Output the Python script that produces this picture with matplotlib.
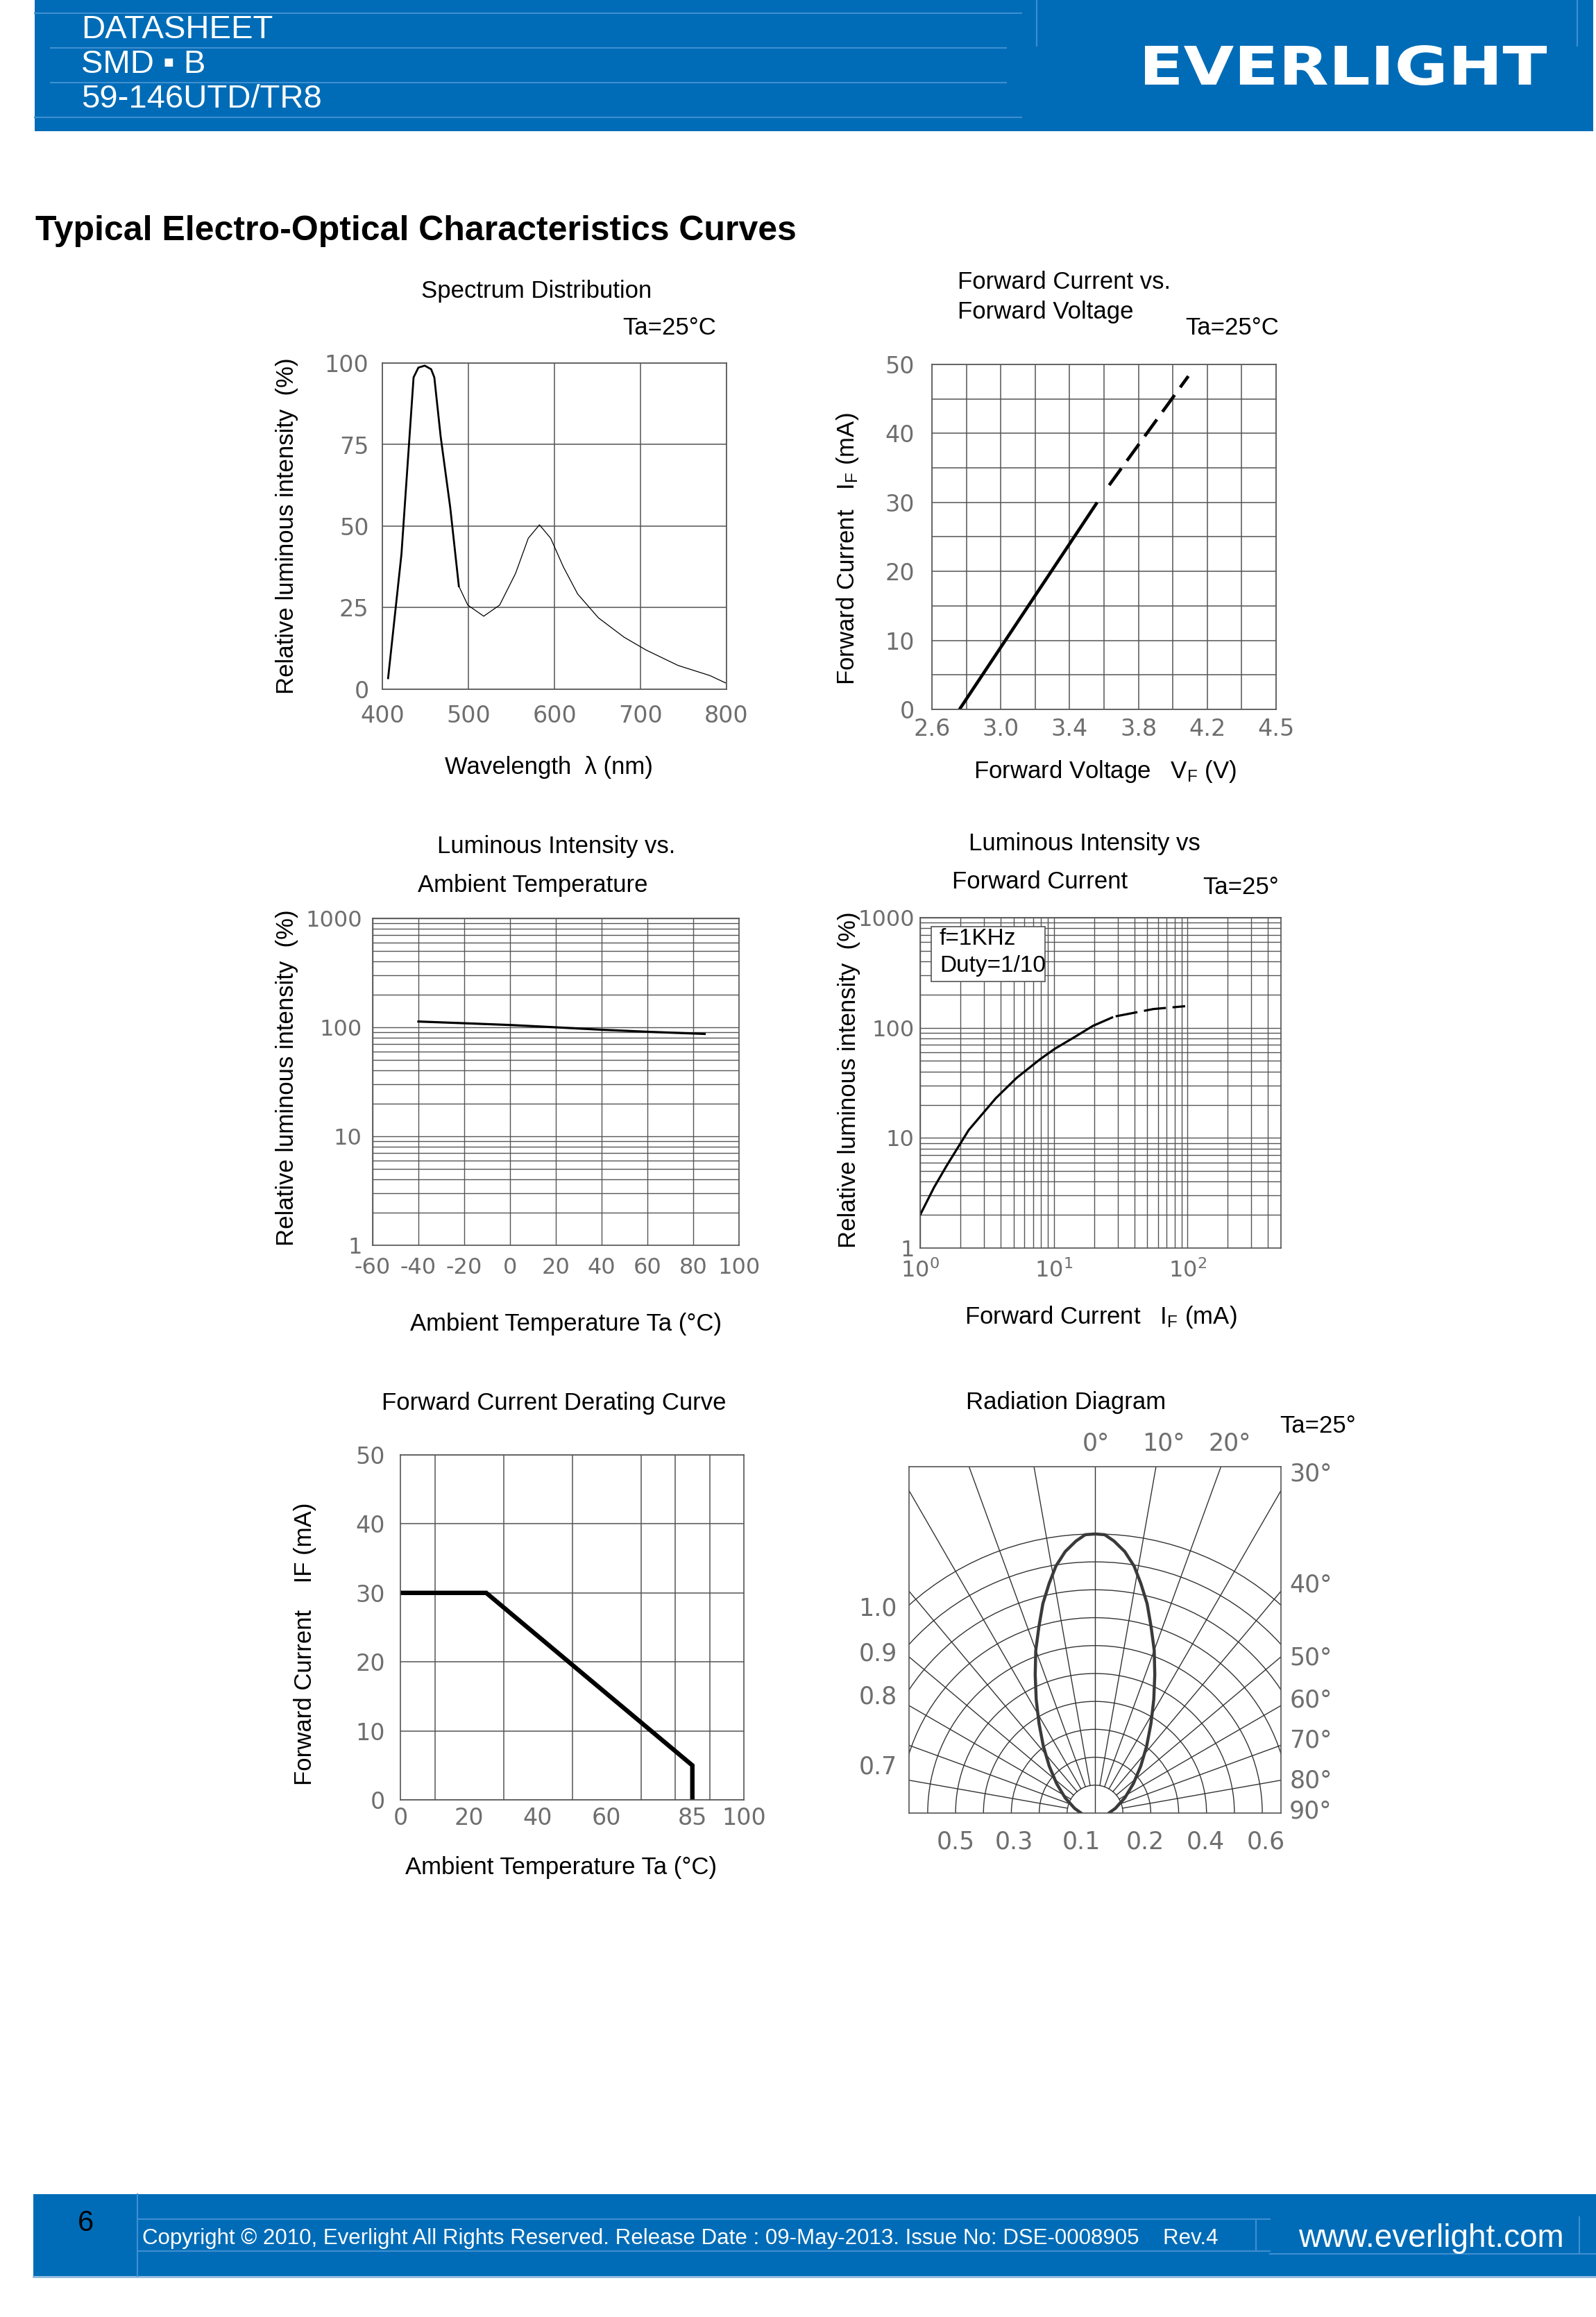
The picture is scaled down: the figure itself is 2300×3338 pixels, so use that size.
import numpy as np
import matplotlib
matplotlib.use("Agg")
import matplotlib.pyplot as plt
from matplotlib import font_manager
from matplotlib.patches import Rectangle, Circle, PathPatch
from matplotlib.lines import Line2D
from matplotlib.textpath import TextPath
from matplotlib.font_manager import FontProperties
from matplotlib.transforms import Affine2D
from matplotlib.ticker import LogLocator, NullFormatter

W, H = 2300, 3338
DPI = 100

# ---------------- values ----------------
# Spectrum distribution (blue chip peak drawn heavier, phosphor part thin)
spec_wl_blue = [406.7, 422.2, 436.3, 441.9, 449.3, 456.7, 460.4, 467.8, 478.9, 488.9]
spec_rel_blue = [3.4, 41.4, 95.6, 98.6, 99.2, 98.1, 95.6, 77.4, 55.7, 31.6]
spec_wl_phos = [488.9, 499.3, 517.8, 536.3, 554.8, 569.6, 582.6, 595.6, 610.4,
                627.0, 651.1, 680.7, 706.7, 743.7, 780.7, 799.3]
spec_rel_phos = [31.6, 25.8, 22.4, 25.8, 35.5, 46.3, 50.4, 46.3, 37.5,
                 29.2, 21.9, 16.0, 12.0, 7.3, 4.2, 1.9]

# Forward current vs forward voltage
vf_solid = [2.76, 3.56]
if_solid = [0, 30]
vf_dash = [3.63, 4.09]
if_dash = [32.5, 48.3]
vf_ticks = [2.6, 3.0, 3.4, 3.8, 4.2, 4.6]
vf_ticklabels = ["2.6", "3.0", "3.4", "3.8", "4.2", "4.5"]

# Luminous intensity vs ambient temperature
ta_temp = [-40, -20, 0, 20, 40, 60, 85]
iv_temp = [113, 109, 105, 100, 95, 91, 87]

# Luminous intensity vs forward current
ifw_solid = [1.0, 1.27, 1.58, 2.31, 3.69, 5.26, 7.86, 10.2, 14.1, 19.6, 27.3]
li_solid = [2.0, 3.55, 5.6, 11.8, 23, 35, 51.6, 64.6, 81.5, 104, 124]
ifw_dash = [29, 55.6, 96]
li_dash = [127, 148, 157]

# Forward current derating
ta_der = [0, 25, 85, 85]
if_der = [30, 30, 5, 0]
der_ticks = [0, 20, 40, 60, 85, 100]

# Radiation diagram (angle from axis, relative intensity)
rad_deg = [0, 2, 4, 6.5, 9, 11.3, 14, 16.7, 20, 23.4, 27.4, 32, 37.6, 44.3, 52.6, 63, 77, 90]
rad_rel = [1.00, 0.998, 0.977, 0.943, 0.896, 0.839, 0.773, 0.699, 0.621, 0.540,
           0.458, 0.379, 0.304, 0.235, 0.173, 0.12, 0.075, 0.05]

# ---------------- style ----------------
BLUE = "#006cb7"
LBLUE = "#3f8fd0"
GRID = "#555555"
GRAY = "#6e6e6e"
names = {f.name for f in font_manager.fontManager.ttflist}
TICK_FONT = "Liberation Sans Narrow" if "Liberation Sans Narrow" in names else "DejaVu Sans"
FS = 25  # black caption text

plt.rcParams["font.family"] = ["Liberation Sans", "DejaVu Sans"]
plt.rcParams["axes.unicode_minus"] = False
plt.rcParams["mathtext.default"] = "regular"

fig = plt.figure(figsize=(W / DPI, H / DPI), dpi=DPI)


def fx(x):
    return x / W


def fy(y):
    return 1 - y / H


def add_ax(l, t, r, b):
    return fig.add_axes([l / W, 1 - b / H, (r - l) / W, (b - t) / H])


def txt(x, y, s, ha="center", va="center", size=FS, **kw):
    fig.text(fx(x), fy(y), s, ha=ha, va=va, fontsize=size, **kw)


def hline(x0, x1, y, color=LBLUE, lw=1.5):
    fig.add_artist(Line2D([fx(x0), fx(x1)], [fy(y), fy(y)], color=color, lw=lw))


def vline(x, y0, y1, color=LBLUE, lw=1.5):
    fig.add_artist(Line2D([fx(x), fx(x)], [fy(y0), fy(y1)], color=color, lw=lw))


def style(ax, xpad, ypad, size=24):
    for s in ax.spines.values():
        s.set_color(GRID)
        s.set_linewidth(1.2)
    ax.tick_params(which="both", length=0)
    ax.tick_params(axis="x", pad=xpad)
    ax.tick_params(axis="y", pad=ypad)
    for t in ax.get_xticklabels() + ax.get_yticklabels():
        t.set_fontfamily(TICK_FONT)
        t.set_fontsize(size)
        t.set_color(GRAY)


# ---------------- header ----------------
fig.add_artist(Rectangle((fx(50), fy(189)), (2296 - 50) / W, 189 / H,
                         transform=fig.transFigure, fc=BLUE, ec="none"))
hline(50, 1472, 19)
hline(73, 1450, 69)
hline(73, 1450, 119)
hline(50, 1472, 169)
vline(1494, 0, 66)
vline(2273, 0, 66)
txt(117, 43, "DATASHEET", ha="left", size=34, color="white")
txt(117, 93, "SMD ▪ B", ha="left", size=34, color="white")
txt(117, 143, "59-146UTD/TR8", ha="left", size=34, color="white")

tp = TextPath((0, 0), "EVERLIGHT", size=100,
              prop=FontProperties(family="DejaVu Sans", weight="bold"))
ext = tp.get_extents()
logo_tr = (Affine2D().translate(-ext.x0, -ext.y0)
           .scale(579 / ext.width, 58 / ext.height)
           .translate(1650, H - 123))
fig.add_artist(PathPatch(tp, transform=logo_tr, fc="white", ec="none"))

txt(51, 333, "Typical Electro-Optical Characteristics Curves", ha="left",
    size=36, fontweight="bold")

# ---------------- 1. spectrum distribution ----------------
ax1 = add_ax(551, 523, 1047, 993)
ax1.plot(spec_wl_blue, spec_rel_blue, color="black", lw=2.0)
ax1.plot(spec_wl_phos, spec_rel_phos, color="black", lw=0.9)
ax1.set_xlim(400, 800)
ax1.set_ylim(0, 100)
ax1.set_xticks([400, 500, 600, 700, 800])
ax1.set_yticks([0, 25, 50, 75, 100])
ax1.grid(True, color=GRID, lw=1.1)
style(ax1, 16, 14)
txt(773, 419, "Spectrum Distribution")
txt(1032, 472, "Ta=25°C", ha="right")
txt(414, 758, "Relative luminous intensity  (%)", rotation=90)
txt(791, 1105, "Wavelength  λ (nm)")

# ---------------- 2. forward current vs forward voltage ----------------
ax2 = add_ax(1343, 525, 1839, 1022)
ax2.plot(vf_solid, if_solid, color="black", lw=3.3, solid_capstyle="butt")
ax2.plot(vf_dash, if_dash, color="black", lw=3.3, dashes=(6.5, 3))
ax2.set_xlim(2.6, 4.6)
ax2.set_ylim(0, 50)
ax2.set_xticks(vf_ticks, labels=vf_ticklabels)
ax2.set_xticks(np.arange(2.8, 4.6, 0.4), minor=True)
ax2.set_yticks([0, 10, 20, 30, 40, 50])
ax2.set_yticks([5, 15, 25, 35, 45], minor=True)
ax2.grid(True, which="both", color=GRID, lw=1.1)
style(ax2, 9, 18)
txt(1380, 407, "Forward Current vs.", ha="left")
txt(1380, 449, "Forward Voltage", ha="left")
txt(1843, 473, "Ta=25°C", ha="right")
txt(1221, 791, r"Forward Current   I$_\mathregular{F}$ (mA)", rotation=90)
txt(1593, 1112, r"Forward Voltage   V$_\mathregular{F}$ (V)")

# ---------------- 3. luminous intensity vs ambient temperature ----------------
ax3 = add_ax(537, 1323, 1065, 1794)
ax3.plot(ta_temp, iv_temp, color="black", lw=2.3)
ax3.set_yscale("log")
ax3.set_xlim(-60, 100)
ax3.set_ylim(1, 1000)
ax3.set_xticks(range(-60, 101, 20))
ax3.set_yticks([1, 10, 100, 1000], labels=["1", "10", "100", "1000"])
ax3.yaxis.set_minor_locator(LogLocator(base=10, subs=range(2, 10)))
ax3.yaxis.set_minor_formatter(NullFormatter())
ax3.grid(True, which="both", color=GRID, lw=1.0)
style(ax3, 12, 11, size=23)
txt(802, 1219, "Luminous Intensity vs.")
txt(768, 1275, "Ambient Temperature")
txt(414, 1553, "Relative luminous intensity  (%)", rotation=90)
txt(816, 1907, "Ambient Temperature Ta (°C)")

# ---------------- 4. luminous intensity vs forward current ----------------
ax4 = add_ax(1326, 1322, 1846, 1798)
ax4.plot(ifw_solid, li_solid, color="black", lw=2.3)
ax4.plot(ifw_dash, li_dash, color="black", lw=2.3, dashes=(10, 3))
ax4.set_xscale("log")
ax4.set_yscale("log")
ax4.set_xlim(1, 500)
ax4.set_ylim(1, 1000)
ax4.set_xticks([1, 10, 100], labels=[r"10$^{0}$", r"10$^{1}$", r"10$^{2}$"])
ax4.set_yticks([1, 10, 100, 1000], labels=["1", "10", "100", "1000"])
for axis in (ax4.xaxis, ax4.yaxis):
    axis.set_minor_locator(LogLocator(base=10, subs=range(2, 10)))
    axis.set_minor_formatter(NullFormatter())
ax4.grid(True, which="both", color=GRID, lw=1.0)
style(ax4, 12, 6, size=23)
ax4.add_patch(Rectangle((fx(1342), fy(1414)), (1506 - 1342) / W, (1414 - 1335) / H,
                        transform=fig.transFigure, fc="white", ec=GRID, lw=1.2,
                        zorder=3))
txt(1354, 1352, "f=1KHz", ha="left", size=24, zorder=4)
txt(1354, 1391, "Duty=1/10", ha="left", size=24, zorder=4)
txt(1563, 1216, "Luminous Intensity vs")
txt(1499, 1270, "Forward Current")
txt(1843, 1279, "Ta=25°", ha="right")
txt(1224, 1556, "Relative luminous intensity  (%)", rotation=90)
txt(1586, 1897, r"Forward Current   I$_\mathregular{F}$ (mA)")

# ---------------- 5. forward current derating ----------------
ax5 = add_ax(577, 2096, 1072, 2593)
ax5.plot(ta_der, if_der, color="black", lw=4.6, solid_joinstyle="miter")
ax5.set_xlim(0, 100)
ax5.set_ylim(0, 50)
ax5.set_xticks(der_ticks)
ax5.set_xticks(range(10, 100, 10), minor=True)
ax5.set_yticks([0, 10, 20, 30, 40, 50])
ax5.xaxis.grid(True, which="minor", color=GRID, lw=1.1)
ax5.yaxis.grid(True, which="major", color=GRID, lw=1.1)
style(ax5, 7, 16)
txt(798, 2021, "Forward Current Derating Curve")
txt(440, 2368, "Forward Current    IF (mA)", rotation=90)
txt(809, 2690, "Ambient Temperature Ta (°C)")

# ---------------- 6. radiation diagram ----------------
ax6 = add_ax(1310, 2113, 1846, 2612)
ax6.set_xlim(-0.667, 0.667)
ax6.set_ylim(0, 1.241)
ax6.set_xticks([])
ax6.set_yticks([])
for s in ax6.spines.values():
    s.set_color(GRID)
    s.set_linewidth(1.2)
for r in np.arange(0.1, 1.01, 0.1):
    ax6.add_patch(Circle((0, 0), r, fill=False, ec="#333333", lw=1.0))
for ang in range(-80, 81, 10):
    a = np.deg2rad(ang)
    r0 = 0.0 if ang == 0 else 0.1
    ax6.plot([r0 * np.sin(a), 2 * np.sin(a)], [r0 * np.cos(a), 2 * np.cos(a)],
             color="#333333", lw=1.0)
deg_all = np.deg2rad(np.concatenate([-np.array(rad_deg[::-1]), np.array(rad_deg[1:])]))
rel_all = np.concatenate([np.array(rad_rel[::-1]), np.array(rad_rel[1:])])
ax6.plot(rel_all * np.sin(deg_all), rel_all * np.cos(deg_all), color="#3a3a3a", lw=3.2)

txt(1536, 2020, "Radiation Diagram")
txt(1954, 2054, "Ta=25°", ha="right")
for lab, x in [("0°", 1579), ("10°", 1677), ("20°", 1772)]:
    txt(x, 2080, lab, size=25, color=GRAY, fontfamily=TICK_FONT)
for lab, y in [("30°", 2123), ("40°", 2284), ("50°", 2388), ("60°", 2449),
               ("70°", 2507), ("80°", 2565), ("90°", 2609)]:
    txt(1889, y, lab, size=25, color=GRAY, fontfamily=TICK_FONT)
for lab, y in [("1.0", 2317), ("0.9", 2382), ("0.8", 2444), ("0.7", 2545)]:
    txt(1265, y, lab, size=25, color=GRAY, fontfamily=TICK_FONT)
for lab, x in [("0.5", 1377), ("0.3", 1461), ("0.1", 1558), ("0.2", 1650),
               ("0.4", 1737), ("0.6", 1824)]:
    txt(x, 2654, lab, size=25, color=GRAY, fontfamily=TICK_FONT)

# ---------------- footer ----------------
fig.add_artist(Rectangle((fx(48), fy(3279)), (2300 - 48) / W, (3279 - 3161) / H,
                         transform=fig.transFigure, fc=BLUE, ec="none"))
hline(198, 1830, 3197)
hline(198, 1830, 3243)
hline(1830, 2300, 3247)
hline(48, 2300, 3280, color="#8fb8de", lw=2)
vline(198, 3161, 3279)
vline(1810, 3197, 3243)
vline(2276, 3194, 3247)
txt(123, 3203, "6", size=30, color="black")
txt(205, 3225, "Copyright © 2010, Everlight All Rights Reserved. Release Date : "
    "09-May-2013. Issue No: DSE-0008905    Rev.4", ha="left", size=22.5, color="white")
txt(2254, 3225, "www.everlight.com", ha="right", size=33, color="white")

fig.savefig("out.png", dpi=DPI, facecolor="white")
